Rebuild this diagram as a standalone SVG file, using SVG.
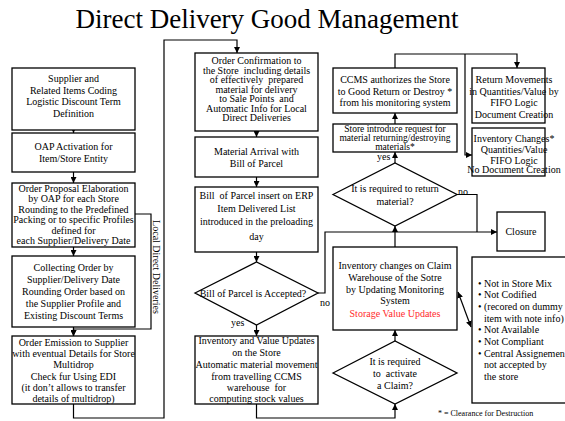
<svg xmlns="http://www.w3.org/2000/svg" width="565" height="421" viewBox="0 0 565 421">
  <style>
    .bg { fill: #ffffff; }
    .box { fill: #ffffff; stroke: #000000; stroke-width: 1.3; }
    .ln { fill: none; stroke: #000000; stroke-width: 1.2; }
    .t { font-family: "Liberation Serif", "Times New Roman", serif; font-size: 10px; fill: #000000; text-anchor: middle; }
    .s { text-anchor: start; }
    .sm { font-size: 9.5px; }
    .red { fill: #ff2a2a; }
    .title { font-family: "Liberation Serif", "Times New Roman", serif; font-size: 27px; fill: #000000; text-anchor: middle; }
    .note { font-family: "Liberation Serif", "Times New Roman", serif; font-size: 8px; fill: #000000; }
  </style>
  <defs>
    <marker id="ah" viewBox="0 0 10 10" refX="10" refY="5" markerWidth="6" markerHeight="6" markerUnits="userSpaceOnUse" orient="auto-start-reverse">
      <path d="M0,0 L10,5 L0,10 z" fill="#000000"/>
    </marker>
  </defs>

  <rect class="bg" x="0" y="0" width="565" height="421"/>
  <text class="title" x="267" y="28">Direct Delivery Good Management</text>

  <!-- connectors -->
  <g id="connectors">
    <!-- left column flow -->
    <path class="ln" d="M73.5,130 V133" marker-end="url(#ah)"/>
    <path class="ln" d="M73.5,172 V183" marker-end="url(#ah)"/>
    <path class="ln" d="M73.5,247 V256" marker-end="url(#ah)"/>
    <path class="ln" d="M73.5,327 V336" marker-end="url(#ah)"/>
    <!-- local direct deliveries loop -->
    <path class="ln" d="M135,214 H151 V329 H73.5 V336" marker-end="url(#ah)"/>
    <!-- order emission to order confirmation -->
    <path class="ln" d="M73.5,404 V418 H164 V40 H237 V53" marker-end="url(#ah)"/>
    <!-- middle column flow -->
    <path class="ln" d="M256.5,131 V137" marker-end="url(#ah)"/>
    <path class="ln" d="M256.5,177 V187" marker-end="url(#ah)"/>
    <path class="ln" d="M256.5,252 V262" marker-end="url(#ah)"/>
    <path class="ln" d="M256.5,325 V336" marker-end="url(#ah)"/>
    <!-- inventory update to claim decision -->
    <path class="ln" d="M256.5,404 V418 H395 V404" marker-end="url(#ah)"/>
    <!-- refused parcel to closure -->
    <path class="ln" d="M318,293 H325 V232 H497" marker-end="url(#ah)"/>
    <!-- no return required -->
    <path class="ln" d="M457,194.5 H477 V232"/>
    <!-- claim chain upwards -->
    <path class="ln" d="M395,341 V330" marker-end="url(#ah)"/>
    <path class="ln" d="M395,247 V226" marker-end="url(#ah)"/>
    <path class="ln" d="M395,163 V152" marker-end="url(#ah)"/>
    <path class="ln" d="M395,124 V113" marker-end="url(#ah)"/>
    <!-- authorization to movements -->
    <path class="ln" d="M395,68 V54 H517 V68" marker-end="url(#ah)"/>
    <path class="ln" d="M465,54 V155 H472" marker-end="url(#ah)"/>
    <!-- claim warehouse to reasons list -->
    <path class="ln" d="M458,292 L471,327" marker-start="url(#ah)" marker-end="url(#ah)"/>
  </g>

  <!-- connector labels -->
  <g id="labels">
    <text class="t" x="153" y="267" transform="rotate(90 153 267)">Local Direct Deliveries</text>
    <text class="t s" x="320" y="306">no</text>
    <text class="t s" x="231" y="326">yes</text>
    <text class="t s" x="377" y="160">yes</text>
    <text class="t s" x="458" y="195">no</text>
  </g>

  <!-- left column -->
  <g id="supplier-coding">
    <rect class="box" x="12" y="68" width="123" height="62"/>
    <text class="t" x="73.5" y="82">Supplier and</text>
    <text class="t" x="73.5" y="93.5">Related Items Coding</text>
    <text class="t" x="73.5" y="105">Logistic Discount Term</text>
    <text class="t" x="73.5" y="116.5">Definition</text>
  </g>
  <g id="oap-activation">
    <rect class="box" x="12" y="133" width="123" height="39"/>
    <text class="t" x="73.5" y="150">OAP Activation for</text>
    <text class="t" x="73.5" y="161.5">Item/Store Entity</text>
  </g>
  <g id="order-proposal">
    <rect class="box" x="12" y="183" width="123" height="64"/>
    <text class="t" x="73.5" y="191.5">Order Proposal Elaboration</text>
    <text class="t" x="73.5" y="202">by OAP for each Store</text>
    <text class="t" x="73.5" y="212.5">Rounding to the Predefined</text>
    <text class="t" x="73.5" y="223">Packing or to specific Profiles</text>
    <text class="t" x="73.5" y="233.5">defined for</text>
    <text class="t" x="73.5" y="244">each Supplier/Delivery Date</text>
  </g>
  <g id="collecting-order">
    <rect class="box" x="12" y="256" width="123" height="71"/>
    <text class="t" x="73.5" y="271">Collecting Order by</text>
    <text class="t" x="73.5" y="283">Supplier/Delivery Date</text>
    <text class="t" x="73.5" y="295">Rounding Order based on</text>
    <text class="t" x="73.5" y="307">the Supplier Profile and</text>
    <text class="t" x="73.5" y="319">Existing Discount Terms</text>
  </g>
  <g id="order-emission">
    <rect class="box" x="12" y="336" width="123" height="68"/>
    <text class="t" x="73.5" y="346">Order Emission to Supplier</text>
    <text class="t" x="73.5" y="357">with eventual Details for Store</text>
    <text class="t" x="73.5" y="368">Multidrop</text>
    <text class="t" x="73.5" y="379.5">Check fur Using EDI</text>
    <text class="t" x="73.5" y="390.5">(it don’t allows to transfer</text>
    <text class="t" x="73.5" y="401.5">details of multidrop)</text>
  </g>

  <!-- middle column -->
  <g id="order-confirmation">
    <rect class="box" x="195" y="53" width="123" height="78"/>
    <text class="t" x="256.5" y="64">Order Confirmation to</text>
    <text class="t" x="256.5" y="73.5" xml:space="preserve">the Store  including details</text>
    <text class="t" x="256.5" y="83" xml:space="preserve">of effectively  prepared</text>
    <text class="t" x="256.5" y="92.5">material for delivery</text>
    <text class="t" x="256.5" y="102" xml:space="preserve">to Sale Points  and</text>
    <text class="t" x="256.5" y="111.5">Automatic Info for Local</text>
    <text class="t" x="256.5" y="121">Direct Deliveries</text>
  </g>
  <g id="material-arrival">
    <rect class="box" x="195" y="137" width="123" height="40"/>
    <text class="t" x="256.5" y="155">Material Arrival with</text>
    <text class="t" x="256.5" y="166.5">Bill of Parcel</text>
  </g>
  <g id="bill-insert">
    <rect class="box" x="195" y="187" width="123" height="65"/>
    <text class="t" x="256.5" y="198.5" xml:space="preserve">Bill  of Parcel insert on ERP</text>
    <text class="t" x="256.5" y="211.5">Item Delivered List</text>
    <text class="t" x="256.5" y="225">introduced in the preloading</text>
    <text class="t" x="256.5" y="240">day</text>
  </g>
  <g id="bill-accepted">
    <path class="box" d="M195,293 L256.5,262 L318,293 L256.5,325 Z"/>
    <text class="t" x="253" y="296.5">Bill of Parcel is Accepted?</text>
  </g>
  <g id="inventory-value">
    <rect class="box" x="195" y="336" width="123" height="68"/>
    <text class="t" x="256.5" y="343.5">Inventory and Value Updates</text>
    <text class="t" x="256.5" y="356">on the Store</text>
    <text class="t" x="256.5" y="368">Automatic material movement</text>
    <text class="t" x="256.5" y="379.5">from travelling CCMS</text>
    <text class="t" x="256.5" y="390.5" xml:space="preserve">warehouse  for</text>
    <text class="t" x="256.5" y="402">computing stock values</text>
  </g>

  <!-- right-middle column -->
  <g id="ccms-authorizes">
    <rect class="box" x="333" y="68" width="124" height="45"/>
    <text class="t" x="395" y="82.5">CCMS authorizes the Store</text>
    <text class="t" x="395" y="95">to Good Return or Destroy *</text>
    <text class="t" x="395" y="106">from his monitoring system</text>
  </g>
  <g id="store-request">
    <rect class="box" x="333" y="124" width="124" height="28"/>
    <text class="t sm" x="395" y="131.5">Store introduce request for</text>
    <text class="t sm" x="395" y="140.5">material returning/destroying</text>
    <text class="t sm" x="395" y="149.5">materials*</text>
  </g>
  <g id="return-required">
    <path class="box" d="M333,194.5 L395,163 L457,194.5 L395,226 Z"/>
    <text class="t" x="395" y="191.5">It is required to return</text>
    <text class="t" x="395" y="204.5">material?</text>
  </g>
  <g id="claim-warehouse">
    <rect class="box" x="333" y="247" width="124" height="83"/>
    <text class="t" x="395" y="268.5">Inventory changes on Claim</text>
    <text class="t" x="395" y="280.5">Warehouse of the Sotre</text>
    <text class="t" x="395" y="292.5">by Updating Monitoring</text>
    <text class="t" x="395" y="303.5">System</text>
    <text class="t red" x="395" y="316.5">Storage Value Updates</text>
  </g>
  <g id="claim-required">
    <path class="box" d="M333,373 L395,341 L457,373 L395,404 Z"/>
    <text class="t" x="395" y="364.5">It is required</text>
    <text class="t" x="395" y="376.5" xml:space="preserve">to  activate</text>
    <text class="t" x="395" y="388.5">a Claim?</text>
  </g>

  <!-- right column -->
  <g id="return-movements">
    <rect class="box" x="472" y="68" width="73" height="55"/>
    <text class="t" x="514" y="82.5">Return Movements</text>
    <text class="t" x="514" y="95">in Quantities/Value by</text>
    <text class="t" x="514" y="106">FIFO Logic</text>
    <text class="t" x="514" y="117.5">Document Creation</text>
  </g>
  <g id="inventory-changes">
    <rect class="box" x="472" y="128" width="73" height="48"/>
    <text class="t" x="514" y="141.5">Inventory Changes*</text>
    <text class="t" x="514" y="153">Quantities/Value</text>
    <text class="t" x="514" y="163.5">FIFO Logic</text>
    <text class="t" x="514" y="173">No Document Creation</text>
  </g>
  <g id="closure">
    <rect class="box" x="497" y="212" width="48" height="39"/>
    <text class="t" x="521" y="235">Closure</text>
  </g>
  <g id="claim-reasons">
    <rect class="box" x="472" y="257" width="100" height="146"/>
    <text class="t s" x="478" y="286.5">•</text><text class="t s" x="484" y="286.5">Not in Store Mix</text>
    <text class="t s" x="478" y="298.2">•</text><text class="t s" x="484" y="298.2">Not Codified</text>
    <text class="t s" x="478" y="309.9">•</text><text class="t s" x="484" y="309.9">(recored on dummy</text>
    <text class="t s" x="484" y="321.6">item with note info)</text>
    <text class="t s" x="478" y="333.3">•</text><text class="t s" x="484" y="333.3">Not Available</text>
    <text class="t s" x="478" y="345">•</text><text class="t s" x="484" y="345">Not Compliant</text>
    <text class="t s" x="478" y="356.7">•</text><text class="t s" x="484" y="356.7">Central Assignemen</text>
    <text class="t s" x="484" y="368.4">not accepted by</text>
    <text class="t s" x="484" y="380.1">the store</text>
  </g>

  <text class="note" x="438" y="416">* = Clearance for Destruction</text>
</svg>
